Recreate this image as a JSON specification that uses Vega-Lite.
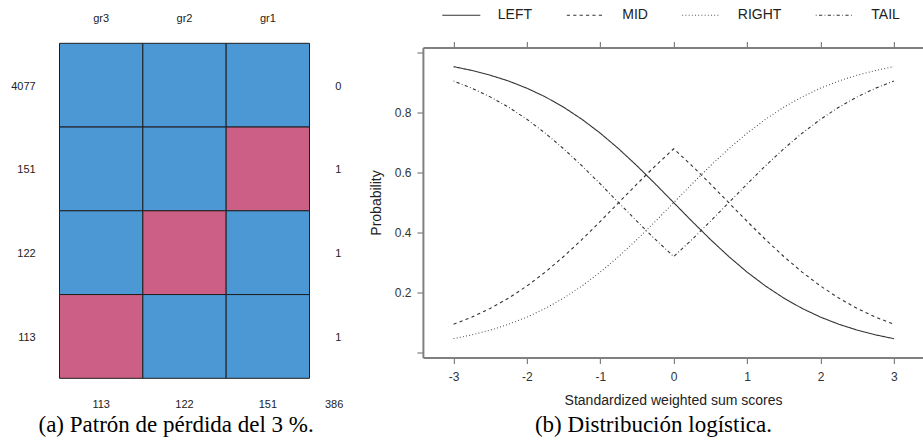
{
  "$schema": "https://vega.github.io/schema/vega-lite/v6.json",
  "background": "white",
  "padding": {"left": 10.5, "top": 4.5, "right": 0, "bottom": 0},
  "bounds": "flush",
  "spacing": 113.4,
  "config": {
    "view": {"stroke": null},
    "font": "Liberation Sans"
  },
  "datasets": {
    "curves": [
      {"x": -3, "curve": "LEFT", "p": 0.9526}, {"x": -2.75, "curve": "LEFT", "p": 0.9399}, {"x": -2.5, "curve": "LEFT", "p": 0.9241}, {"x": -2.25, "curve": "LEFT", "p": 0.9047}, {"x": -2, "curve": "LEFT", "p": 0.8808}, {"x": -1.75, "curve": "LEFT", "p": 0.852}, {"x": -1.5, "curve": "LEFT", "p": 0.8176}, {"x": -1.25, "curve": "LEFT", "p": 0.7773}, {"x": -1, "curve": "LEFT", "p": 0.7311}, {"x": -0.75, "curve": "LEFT", "p": 0.6792}, {"x": -0.5, "curve": "LEFT", "p": 0.6225}, {"x": -0.25, "curve": "LEFT", "p": 0.5622}, {"x": 0, "curve": "LEFT", "p": 0.5}, {"x": 0.25, "curve": "LEFT", "p": 0.4378}, {"x": 0.5, "curve": "LEFT", "p": 0.3775}, {"x": 0.75, "curve": "LEFT", "p": 0.3208}, {"x": 1, "curve": "LEFT", "p": 0.2689}, {"x": 1.25, "curve": "LEFT", "p": 0.2227}, {"x": 1.5, "curve": "LEFT", "p": 0.1824}, {"x": 1.75, "curve": "LEFT", "p": 0.148}, {"x": 2, "curve": "LEFT", "p": 0.1192}, {"x": 2.25, "curve": "LEFT", "p": 0.0953}, {"x": 2.5, "curve": "LEFT", "p": 0.0759}, {"x": 2.75, "curve": "LEFT", "p": 0.0601}, {"x": 3, "curve": "LEFT", "p": 0.0474},
      {"x": -3, "curve": "RIGHT", "p": 0.0474}, {"x": -2.75, "curve": "RIGHT", "p": 0.0601}, {"x": -2.5, "curve": "RIGHT", "p": 0.0759}, {"x": -2.25, "curve": "RIGHT", "p": 0.0953}, {"x": -2, "curve": "RIGHT", "p": 0.1192}, {"x": -1.75, "curve": "RIGHT", "p": 0.148}, {"x": -1.5, "curve": "RIGHT", "p": 0.1824}, {"x": -1.25, "curve": "RIGHT", "p": 0.2227}, {"x": -1, "curve": "RIGHT", "p": 0.2689}, {"x": -0.75, "curve": "RIGHT", "p": 0.3208}, {"x": -0.5, "curve": "RIGHT", "p": 0.3775}, {"x": -0.25, "curve": "RIGHT", "p": 0.4378}, {"x": 0, "curve": "RIGHT", "p": 0.5}, {"x": 0.25, "curve": "RIGHT", "p": 0.5622}, {"x": 0.5, "curve": "RIGHT", "p": 0.6225}, {"x": 0.75, "curve": "RIGHT", "p": 0.6792}, {"x": 1, "curve": "RIGHT", "p": 0.7311}, {"x": 1.25, "curve": "RIGHT", "p": 0.7773}, {"x": 1.5, "curve": "RIGHT", "p": 0.8176}, {"x": 1.75, "curve": "RIGHT", "p": 0.852}, {"x": 2, "curve": "RIGHT", "p": 0.8808}, {"x": 2.25, "curve": "RIGHT", "p": 0.9047}, {"x": 2.5, "curve": "RIGHT", "p": 0.9241}, {"x": 2.75, "curve": "RIGHT", "p": 0.9399}, {"x": 3, "curve": "RIGHT", "p": 0.9526},
      {"x": -3, "curve": "MID", "p": 0.0953}, {"x": -2.75, "curve": "MID", "p": 0.1192}, {"x": -2.5, "curve": "MID", "p": 0.148}, {"x": -2.25, "curve": "MID", "p": 0.1824}, {"x": -2, "curve": "MID", "p": 0.2227}, {"x": -1.75, "curve": "MID", "p": 0.2689}, {"x": -1.5, "curve": "MID", "p": 0.3208}, {"x": -1.25, "curve": "MID", "p": 0.3775}, {"x": -1, "curve": "MID", "p": 0.4378}, {"x": -0.75, "curve": "MID", "p": 0.5}, {"x": -0.5, "curve": "MID", "p": 0.5622}, {"x": -0.25, "curve": "MID", "p": 0.6225}, {"x": 0, "curve": "MID", "p": 0.6792}, {"x": 0.25, "curve": "MID", "p": 0.6225}, {"x": 0.5, "curve": "MID", "p": 0.5622}, {"x": 0.75, "curve": "MID", "p": 0.5}, {"x": 1, "curve": "MID", "p": 0.4378}, {"x": 1.25, "curve": "MID", "p": 0.3775}, {"x": 1.5, "curve": "MID", "p": 0.3208}, {"x": 1.75, "curve": "MID", "p": 0.2689}, {"x": 2, "curve": "MID", "p": 0.2227}, {"x": 2.25, "curve": "MID", "p": 0.1824}, {"x": 2.5, "curve": "MID", "p": 0.148}, {"x": 2.75, "curve": "MID", "p": 0.1192}, {"x": 3, "curve": "MID", "p": 0.0953},
      {"x": -3, "curve": "TAIL", "p": 0.9047}, {"x": -2.75, "curve": "TAIL", "p": 0.8808}, {"x": -2.5, "curve": "TAIL", "p": 0.852}, {"x": -2.25, "curve": "TAIL", "p": 0.8176}, {"x": -2, "curve": "TAIL", "p": 0.7773}, {"x": -1.75, "curve": "TAIL", "p": 0.7311}, {"x": -1.5, "curve": "TAIL", "p": 0.6792}, {"x": -1.25, "curve": "TAIL", "p": 0.6225}, {"x": -1, "curve": "TAIL", "p": 0.5622}, {"x": -0.75, "curve": "TAIL", "p": 0.5}, {"x": -0.5, "curve": "TAIL", "p": 0.4378}, {"x": -0.25, "curve": "TAIL", "p": 0.3775}, {"x": 0, "curve": "TAIL", "p": 0.3208}, {"x": 0.25, "curve": "TAIL", "p": 0.3775}, {"x": 0.5, "curve": "TAIL", "p": 0.4378}, {"x": 0.75, "curve": "TAIL", "p": 0.5}, {"x": 1, "curve": "TAIL", "p": 0.5622}, {"x": 1.25, "curve": "TAIL", "p": 0.6225}, {"x": 1.5, "curve": "TAIL", "p": 0.6792}, {"x": 1.75, "curve": "TAIL", "p": 0.7311}, {"x": 2, "curve": "TAIL", "p": 0.7773}, {"x": 2.25, "curve": "TAIL", "p": 0.8176}, {"x": 2.5, "curve": "TAIL", "p": 0.852}, {"x": 2.75, "curve": "TAIL", "p": 0.8808}, {"x": 3, "curve": "TAIL", "p": 0.9047}
    ]
  },
  "hconcat": [
    {
      "width": 250,
      "height": 331,
      "title": {"text": "(a) Patrón de pérdida del 3 %.", "orient": "bottom", "anchor": "middle", "frame": "group", "offset": 4, "dx": -8.4, "font": "Liberation Serif", "fontSize": 23, "fontWeight": "normal", "color": "#000000"},
      "layer": [
        {
          "data": {"values": [
            {"pattern": "4077", "variable": "gr3", "state": "observed"},
            {"pattern": "4077", "variable": "gr2", "state": "observed"},
            {"pattern": "4077", "variable": "gr1", "state": "observed"},
            {"pattern": "151", "variable": "gr3", "state": "observed"},
            {"pattern": "151", "variable": "gr2", "state": "observed"},
            {"pattern": "151", "variable": "gr1", "state": "missing"},
            {"pattern": "122", "variable": "gr3", "state": "observed"},
            {"pattern": "122", "variable": "gr2", "state": "missing"},
            {"pattern": "122", "variable": "gr1", "state": "observed"},
            {"pattern": "113", "variable": "gr3", "state": "missing"},
            {"pattern": "113", "variable": "gr2", "state": "observed"},
            {"pattern": "113", "variable": "gr1", "state": "observed"}
          ]},
          "mark": {"type": "rect", "stroke": "#1e1e1e", "strokeWidth": 1},
          "encoding": {
            "x": {"field": "variable", "type": "nominal",
              "scale": {"domain": ["gr3", "gr2", "gr1"], "paddingInner": 0, "paddingOuter": 0},
              "axis": {"orient": "top", "title": null, "ticks": false, "tickSize": 0, "domain": false, "labelAngle": 0, "labelPadding": 24.5, "labelFontSize": 11, "labelColor": "#222222"}},
            "y": {"field": "pattern", "type": "nominal",
              "scale": {"domain": ["4077", "151", "122", "113"], "paddingInner": 0, "paddingOuter": 0, "range": [-4.2, 330.8]},
              "axis": {"orient": "left", "title": null, "ticks": false, "tickSize": 0, "domain": false, "labelPadding": 24.3, "labelOffset": 1.5, "labelFontSize": 11, "labelColor": "#222222"}},
            "color": {"field": "state", "type": "nominal", "scale": {"domain": ["observed", "missing"], "range": ["#4C98D4", "#CC5F85"]}, "legend": null}
          }
        },
        {
          "data": {"values": [
            {"pattern": "4077", "nmiss": 0},
            {"pattern": "151", "nmiss": 1},
            {"pattern": "122", "nmiss": 1},
            {"pattern": "113", "nmiss": 1}
          ]},
          "mark": {"type": "text", "align": "left", "baseline": "middle", "dx": 67.3, "dy": 1.5, "fontSize": 11, "color": "#222222"},
          "encoding": {
            "x": {"datum": "gr1", "type": "nominal"},
            "y": {"field": "pattern", "type": "nominal"},
            "text": {"field": "nmiss", "type": "quantitative"}
          }
        },
        {
          "data": {"values": [
            {"variable": "gr3", "n": 113},
            {"variable": "gr2", "n": 122},
            {"variable": "gr1", "n": 151}
          ]},
          "mark": {"type": "text", "align": "center", "baseline": "middle", "dy": 68.6, "fontSize": 11, "color": "#222222"},
          "encoding": {
            "x": {"field": "variable", "type": "nominal"},
            "y": {"datum": "113", "type": "nominal"},
            "text": {"field": "n", "type": "quantitative"}
          }
        },
        {
          "data": {"values": [{"total": 386}]},
          "mark": {"type": "text", "align": "center", "baseline": "middle", "dx": 66.3, "dy": 68.6, "fontSize": 11, "color": "#222222"},
          "encoding": {
            "x": {"datum": "gr1", "type": "nominal"},
            "y": {"datum": "113", "type": "nominal"},
            "text": {"field": "total", "type": "quantitative"}
          }
        }
      ]
    },
    {
      "width": 500.3,
      "height": 310,
      "title": {"text": "(b) Distribución logística.", "orient": "bottom", "anchor": "middle", "frame": "group", "offset": 6.5, "dx": -19.6, "font": "Liberation Serif", "fontSize": 23, "fontWeight": "normal", "color": "#000000"},
      "layer": [
        {
          "data": {"name": "curves"},
          "mark": {"type": "line", "color": "#333333", "stroke": "#333333", "strokeWidth": 1.1},
          "encoding": {
            "x": {"field": "x", "type": "quantitative",
              "scale": {"domain": [-3.418, 3.4], "nice": false, "zero": false},
              "axis": {"orient": "bottom", "values": [-3, -2, -1, 0, 1, 2, 3], "labelExpr": "'' + datum.value", "title": "Standardized weighted sum scores", "grid": false, "domainColor": "#808080", "domainWidth": 2, "tickColor": "#808080", "tickWidth": 1.2, "tickSize": 6, "labelPadding": 8, "labelFontSize": 12, "labelColor": "#333333", "labelFlush": false, "titleFontSize": 14, "titleFontWeight": "normal", "titleColor": "#222222", "titlePadding": 10.5}},
            "y": {"field": "p", "type": "quantitative",
              "scale": {"domain": [-0.0153, 1.0163], "nice": false, "zero": false},
              "axis": {"orient": "left", "values": [0, 0.2, 0.4, 0.6, 0.8, 1], "labelExpr": "datum.value > 0.01 && datum.value < 0.99 ? datum.label : ''", "title": "Probability", "grid": false, "domainColor": "#808080", "domainWidth": 2, "tickColor": "#808080", "tickWidth": 1.2, "tickSize": 6, "labelPadding": 6, "labelFontSize": 12, "labelColor": "#333333", "labelFlush": false, "titleFontSize": 14, "titleFontWeight": "normal", "titleColor": "#222222", "titlePadding": 10.5}},
            "strokeDash": {"field": "curve", "type": "nominal",
              "scale": {"domain": ["LEFT", "MID", "RIGHT", "TAIL"], "range": [[1, 0], [3.2, 3.2], [0.8, 2.4], [0.8, 2.4, 3.2, 2.4]]},
              "legend": {"orient": "none", "legendX": 391.3, "legendY": -43, "direction": "horizontal", "title": null, "symbolType": "M-2,0H2", "symbolSize": 361, "symbolStrokeWidth": 1.1, "symbolStrokeColor": "#333333", "labelFontSize": 14, "labelColor": "#222222", "labelOffset": 26, "columnPadding": 31.5, "padding": 0}}
          }
        },
        {
          "data": {"name": "curves"},
          "mark": {"type": "line", "strokeOpacity": 0},
          "encoding": {
            "x": {"field": "x", "type": "quantitative",
              "axis": {"orient": "top", "values": [-3, -2, -1, 0, 1, 2, 3], "labels": false, "title": null, "grid": false, "domainColor": "#808080", "domainWidth": 2, "tickColor": "#808080", "tickWidth": 1.2, "tickSize": 6}},
            "y": {"field": "p", "type": "quantitative"},
            "detail": {"field": "curve", "type": "nominal"}
          }
        }
      ],
      "resolve": {"axis": {"x": "independent"}}
    }
  ]
}
